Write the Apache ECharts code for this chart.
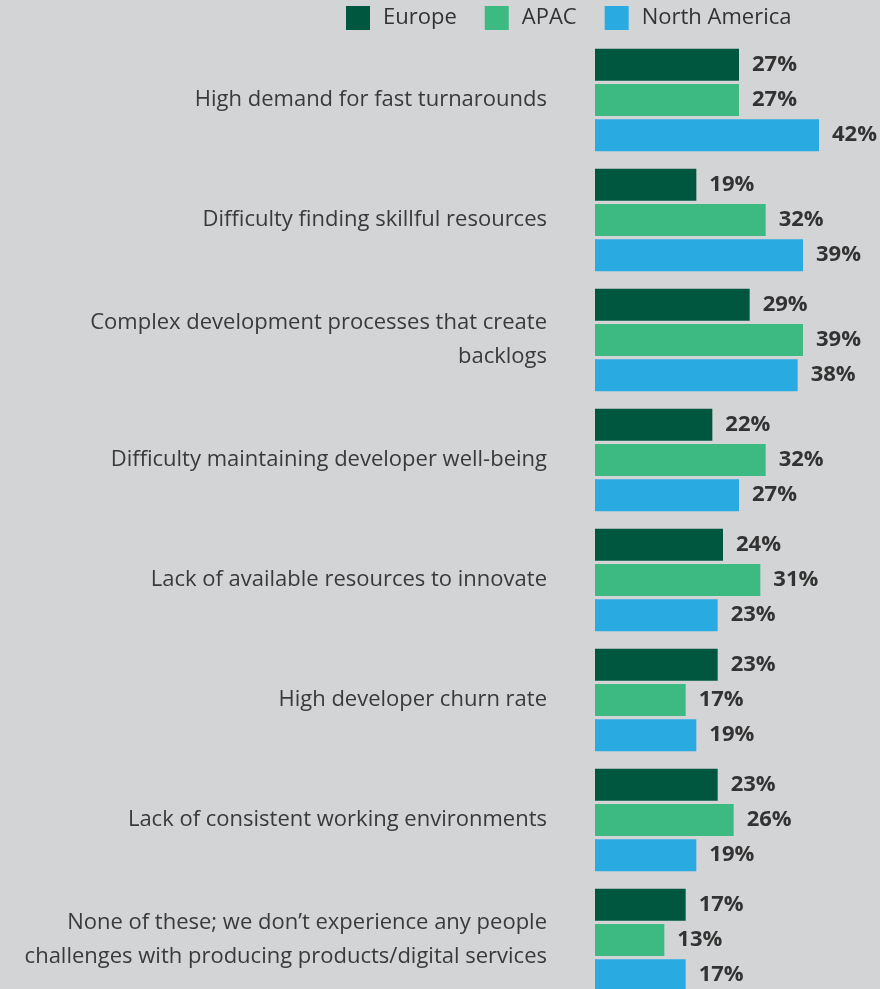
<!DOCTYPE html>
<html><head><meta charset="utf-8">
<script src="https://cdn.jsdelivr.net/npm/echarts@6/dist/echarts.min.js"></script>
<style>html,body{margin:0;padding:0;background:#d3d4d6;overflow:hidden;}#c{width:880px;height:1000px;}</style>
</head><body><div id="c"></div>
<script>
const categories = [
  "High demand for fast turnarounds",
  "Difficulty finding skillful resources",
  "Complex development processes that create\nbacklogs",
  "Difficulty maintaining developer well-being",
  "Lack of available resources to innovate",
  "High developer churn rate",
  "Lack of consistent working environments",
  "None of these; we don\u2019t experience any people\nchallenges with producing products/digital services"
];
const europe = [27, 19, 29, 22, 24, 23, 23, 17];
const apac = [27, 32, 39, 32, 31, 17, 26, 13];
const northAmerica = [42, 39, 38, 27, 23, 19, 19, 17];
const seriesNames = ["Europe", "APAC", "North America"];
const colors = ["#00573f", "#3dba82", "#29abe2"];

const font = "'Open Sans', sans-serif";
const chart = echarts.init(document.getElementById('c'));
const mk = (name, data, color) => ({
  name, type: 'bar', data, barWidth: 32, barGap: '10%',
  itemStyle: { color },
  label: { show: true, position: 'right', distance: 13, formatter: '{c}%',
    color: '#333', fontWeight: 'bold', fontSize: 22, fontFamily: font }
});
chart.setOption({
  backgroundColor: '#d3d4d6',
  animation: false,
  legend: {
    top: 6, left: 346, padding: 0, itemWidth: 24, itemHeight: 24, itemGap: 28, icon: 'rect',
    textStyle: { color: '#333', fontSize: 22, fontFamily: font, padding: [0, 0, 0, 8] },
    data: seriesNames
  },
  grid: { left: 595, top: 40, width: 266.67, height: 960, containLabel: false },
  xAxis: { type: 'value', min: 0, max: 50, show: false },
  yAxis: {
    type: 'category', data: categories, inverse: true,
    axisLine: { show: false }, axisTick: { show: false },
    axisLabel: { margin: 48, color: '#3a3a3a', fontSize: 22, fontFamily: font, lineHeight: 34, align: 'right' }
  },
  series: [mk(seriesNames[0], europe, colors[0]), mk(seriesNames[1], apac, colors[1]), mk(seriesNames[2], northAmerica, colors[2])]
});
</script></body></html>
